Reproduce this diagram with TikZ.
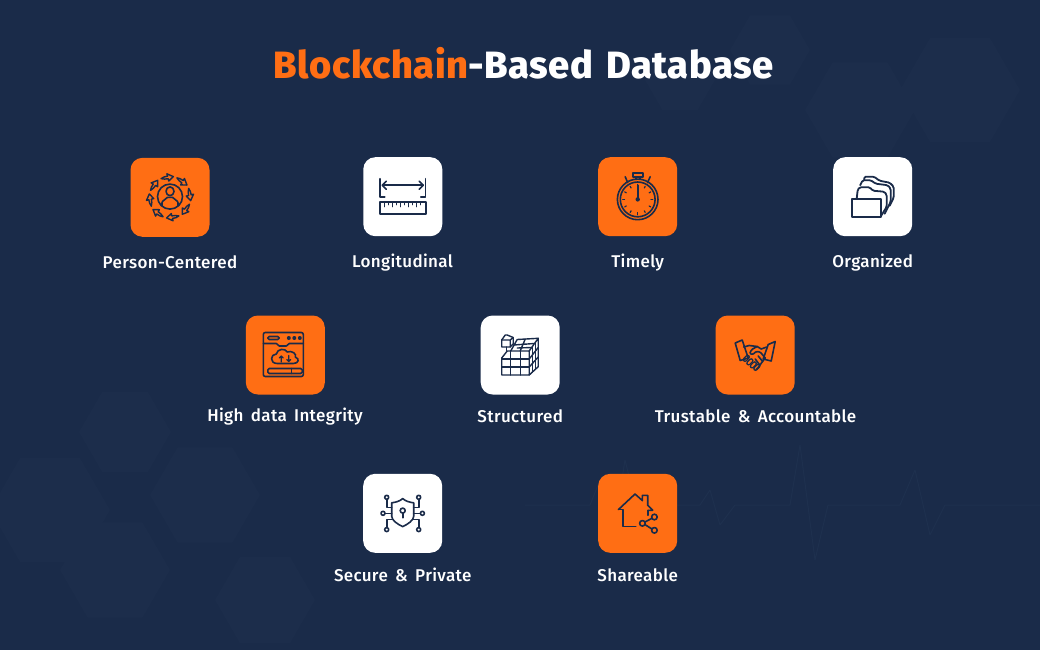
\documentclass[tikz,border=0pt]{standalone}
\usepackage{fontspec}
\setmainfont{Fira Sans}[UprightFont=* Medium,LetterSpace=2,WordSpace=1.6]
\newfontfamily\titlefont{Fira Sans}[UprightFont=* ExtraBold,LetterSpace=1.5,WordSpace=1.4]
\usetikzlibrary{shapes.geometric,calc}
\definecolor{bgnavy}{HTML}{1A2B49}
\definecolor{bgfaint}{HTML}{1C2D4B}
\definecolor{bgline}{HTML}{1E304E}
\definecolor{tileorange}{HTML}{FF6E14}
\definecolor{inkdark}{HTML}{1A2B49}
\tikzset{
  tile/.style={minimum size=79pt,inner sep=0pt,rounded corners=12pt,draw=none},
  orangetile/.style={tile,fill=tileorange},
  whitetile/.style={tile,fill=white},
  caption/.style={text=white,font=\fontsize{17}{20}\selectfont,anchor=base,inner sep=0pt},
  ico/.style={draw=inkdark,line width=1.6pt,line join=round,line cap=round},
  hexa/.style={regular polygon,regular polygon sides=6,fill=bgfaint,draw=none,inner sep=0pt},
  pulse/.style={draw=bgline,line width=1pt,line join=round}
}
\begin{document}
\begin{tikzpicture}[x=1pt,y=-1pt]
\useasboundingbox (0,0) rectangle (1040,650);
\fill[bgnavy] (0,0) rectangle (1040,650);
% faint background
\node[hexa,minimum size=92pt] (h1) at (125,432) {};
\node[hexa,minimum size=110pt] (h2) at (205,495) {};
\node[hexa,minimum size=120pt] (h3) at (50,510) {};
\node[hexa,minimum size=110pt] (h4) at (115,570) {};
\node[hexa,minimum size=100pt] (h5) at (265,600) {};
\node[hexa,minimum size=110pt] (h6) at (860,110) {};
\node[hexa,minimum size=120pt] (h7) at (960,90) {};
\node[hexa,minimum size=80pt] (h8) at (770,50) {};
\node[hexa,minimum size=70pt] (h9) at (680,80) {};
\draw[pulse] (525,505)--(590,505)--(600,480)--(612,540)--(625,460)--(640,520)--(650,505)--(700,505)--(710,490)--(720,525)--(735,505)--(790,505)--(800,445)--(815,560)--(828,505)--(900,505)--(915,470)--(930,535)--(945,505)--(1040,505);
% title
\node[anchor=base,inner sep=0pt,font=\titlefont\fontsize{38}{44}\selectfont,text=white] (title) at (523.5,78.5) {\textcolor{tileorange}{Blockchain}-Based Database};
% tiles
\node[orangetile] (t1) at (170,197.3) {};
\node[whitetile]  (t2) at (402.8,196.7) {};
\node[orangetile] (t3) at (637.7,196.7) {};
\node[whitetile]  (t4) at (872.7,196.7) {};
\node[orangetile] (t5) at (285.3,355) {};
\node[whitetile]  (t6) at (520.2,355) {};
\node[orangetile] (t7) at (755.2,355) {};
\node[whitetile]  (t8) at (402.7,513.3) {};
\node[orangetile] (t9) at (637.7,513.3) {};
% captions
\node[caption] (c1) at (170,268) {Person-Centered};
\node[caption] (c2) at (402.5,267) {Longitudinal};
\node[caption] (c3) at (637.7,267) {Timely};
\node[caption] (c4) at (872.7,267) {Organized};
\node[caption] (c5) at (285,421) {High data Integrity};
\node[caption] (c6) at (520.2,422) {Structured};
\node[caption] (c7) at (755.5,422) {Trustable \& Accountable};
\node[caption] (c8) at (402.7,581) {Secure \& Private};
\node[caption] (c9) at (637.7,581) {Shareable};
% icon 1: person with circling arrows
\begin{scope}[shift={(t1.center)},ico]
  \draw (0,-0.7) circle (12.5);
  \draw (0,-6) ellipse (4 and 4.4);
  \draw (-8,8.5) -- (-8,5.5) .. controls (-8,3) and (-4,2.5) .. (-2.5,0) -- (2.5,0) .. controls (4,2.5) and (8,3) .. (8,5.5) -- (8,8.5);
  \foreach \a in {0,45,...,315}{
    \draw[line width=1.4pt,rotate=\a+8,shift={(0,-0.7)}] (-6.2,-19) .. controls (-4.5,-20.2) and (-2,-20.6) .. (0.5,-20.6) -- (0.2,-23) -- (6.2,-19.3) -- (1,-15.6) -- (0.8,-18) .. controls (-1.5,-18) and (-4,-17.8) .. (-6.2,-19) -- cycle;
  }
\end{scope}
% icon 2: ruler with span arrow
\begin{scope}[shift={(t2.center)},ico]
  \draw (-22.7,-18) -- (-22.7,0.5) -- (-18,0.5);
  \draw (22.7,-18) -- (22.7,0.5) -- (18,0.5);
  \draw (-20,-11.5) -- (20,-11.5);
  \draw (-16.5,-15.5) -- (-20.5,-11.5) -- (-16.5,-7.5);
  \draw (16.5,-15.5) -- (20.5,-11.5) -- (16.5,-7.5);
  \draw (-23,5) rectangle (23,17.3);
  \foreach \x/\h in {-18/5,-14/3,-10/5,-6/3,-2/5,2/3,6/5,10/3,14/5,18/3}{
    \draw[line width=1.2pt] (\x,5) -- (\x,5+\h);
  }
\end{scope}
% icon 3: stopwatch
\begin{scope}[shift={(t3.center)},ico]
  \draw (0,2.7) circle (20.3);
  \draw (0,2.7) circle (17.4);
  \draw (-5,-24) rectangle (5,-20);
  \draw (-2,-20) -- (-2,-17.4) (2,-20) -- (2,-17.4);
  \draw (-12.5,-20) -- (-10,-14);
  \draw (12.5,-20) -- (9.8,-14);
  \draw (0,-11.5) -- (0,2.7);
  \fill[inkdark,draw=none] (0,2.7) circle (2.2);
  \foreach \a in {30,60,...,150,210,240,...,330}{
    \draw[line width=1.2pt] ($(0,2.7)+(\a:13.2)$) -- ($(0,2.7)+(\a:15)$);
  }
  \draw[line width=1.2pt] (0,16) -- (0,18);
  \draw[line width=1.2pt] (13.2,2.7) -- (15,2.7) (-13.2,2.7) -- (-15,2.7);
\end{scope}
% icon 4: folders
\begin{scope}[shift={(t4.center)},ico,line width=1.8pt]
  \draw[rounded corners=1.5pt] (-8.5,-17) -- (-8.5,-20) -- (1.5,-20) -- (6.7,-16) -- (17,-14) -- (21,-10) -- (21,1) -- (17,9);
  \draw[fill=white,rounded corners=1.5pt] (-12.5,-11.5) -- (-10,-16.5) -- (-2,-16.5) -- (3,-13) -- (15,-11.5) -- (18,-8) -- (18,5) -- (12,17);
  \draw[fill=white,rounded corners=1.5pt] (-16,2) -- (-15,-7) -- (-13,-9.5) -- (-3,-9.5) -- (0,-6) -- (11.5,-5) -- (14,-2) -- (14,10) -- (8.5,19);
  \draw[fill=white] (-21,2) rectangle (8.3,20);
\end{scope}
% icon 5: browser with cloud
\begin{scope}[shift={(t5.center)},ico]
  \draw[rounded corners=2pt] (-22,-22.5) rectangle (18,21.5);
  \draw[rounded corners=1.5pt] (-17.5,-18.5) rectangle (-6,-15.5);
  \foreach \x in {5,10.5,16}{\fill[inkdark] (\x-1.5,-17) circle (2);}
  \draw (-22,-11.5) -- (-9,-11.5) -- (-6,-9) -- (1,-9) -- (4,-11.5) -- (18,-11.5);
  \draw (-8,8.5) .. controls (-16,8.5) and (-15,-1) .. (-9,-1) .. controls (-8,-6.5) and (0,-7) .. (2,-3) .. controls (6,-5) and (12,-1) .. (10,2) .. controls (15,4) and (13,8.5) .. (8,8.5) -- cycle;
  \draw[line width=1.2pt] (-4,7) -- (-4,1) (-6,3) -- (-4,1) -- (-2,3);
  \draw[line width=1.2pt] (3.5,0.5) -- (3.5,6.5) (1.5,4.5) -- (3.5,6.5) -- (5.5,4.5);
  \draw[rounded corners=1.5pt] (-17.5,13.5) rectangle (17,18.5);
  \draw (6,13.5) -- (6,18.5);
\end{scope}
% icon 6: cube
\begin{scope}[shift={(t6.center)},ico,line width=1.4pt]
  \draw (-18.5,3) -- (-13,-4) -- (9,-4) -- (9,20) -- (-18.5,20) -- cycle;
  \draw (-9.5,-4) -- (-9.5,20) (0,-4) -- (0,20);
  \draw (-18.5,4) -- (9,4) (-18.5,12) -- (9,12);
  \draw (9,20) -- (18,11.7) -- (18,-16.7) -- (9,-4);
  \draw (12,-8) -- (12,17.2) (15,-12.5) -- (15,14.5);
  \draw (9,4) -- (18,-7.5) (9,12) -- (18,2);
  \draw (-9.5,-4) -- (-3,-15.5) -- (18,-16.7);
  \draw (0,-4) -- (5,-15.9) (-6.5,-10) -- (14,-11.5) (-3,-7) -- (11.5,-7.5);
  \draw[fill=white] (-18.5,-15) -- (-18.5,-8) -- (-10,-8) -- (-7,-11) -- (-7,-17.5) -- (-13,-20) -- (-15,-20) -- cycle;
  \draw (-18.5,-15) -- (-10,-15) -- (-10,-8) (-10,-15) -- (-7,-17.5);
  \draw (-13.5,-8) -- (-13.5,-4);
\end{scope}
% icon 7: handshake
\begin{scope}[shift={(t7.center)},ico]
  \foreach \x/\y in {-9/3.5,-5.5/7,-2/10,1.5/12.5}{
    \draw[line width=4.6pt] (\x-1.2,\y+1.2) -- (\x+1.5,\y-1.5);
    \draw[line width=2pt,tileorange] (\x-1.2,\y+1.2) -- (\x+1.5,\y-1.5);
  }
  \draw (-20,-12) -- (-13,-15) -- (-7,3) -- (-15,5.5) -- cycle;
  \draw (20,-13.5) -- (13,-10.5) -- (8,4) -- (16,6) -- cycle;
  \draw (-11.5,-8) -- (-6,-9.5) -- (2,-8.5) -- (6,-6) -- (11.5,-8);
  \draw[rounded corners=1pt] (2,-8.5) -- (-3.5,-5.5) -- (-5.5,-1.5) -- (-2.5,-0.5) -- (1,-3.5) -- (5,-3) -- (10,3);
  \draw (10,3) -- (8,5.5) -- (3,12.5) -- (1,14.5);
  \draw (3,1) -- (7.5,6.5);
  \draw (0,4) -- (4.5,10);
\end{scope}
% icon 8: shield with circuit
\begin{scope}[shift={(t8.center)},ico]
  \draw (0,-14.7) .. controls (-3,-12) and (-7,-11) .. (-11,-10.5) -- (-11,3) .. controls (-11,7) and (-5,11) .. (0,13.3) .. controls (5,11) and (11,7) .. (11,3) -- (11,-10.5) .. controls (7,-11) and (3,-12) .. (0,-14.7) -- cycle;
  \draw (0,-2.7) circle (2.5);
  \draw (0,-0.2) -- (0,4.5);
  \foreach \x/\y in {-16/-16,16/-16,-19.7/0,19.7/0,-16/16.3,16/16.3}{
    \draw (\x,\y) circle (2);
  }
  \draw (-16,-14) -- (-16,-6) -- (-11,-6);
  \draw (16,-14) -- (16,-6) -- (11,-6);
  \draw (-17.7,0) -- (-11,0);
  \draw (17.7,0) -- (11,0);
  \draw (-16,14.3) -- (-16,6.3) -- (-10,6.3);
  \draw (16,14.3) -- (16,6.3) -- (10,6.3);
\end{scope}
% icon 9: house with share
\begin{scope}[shift={(t9.center)},ico]
  \draw (-19.3,-3.7) -- (-2.7,-19.3) -- (4.7,-12.7) -- (4.7,-18) -- (10,-18) -- (10,-8) -- (15,-3) -- (11,-3);
  \draw (-19.3,-3.7) -- (-14.5,-3.7) -- (-14.5,13.3) -- (-2,13.3);
  \draw (10,-3) -- (10,2);
  \draw (16.7,3.7) circle (2.8);
  \draw (4.7,10) circle (2.8);
  \draw (16.7,17) circle (2.8);
  \draw (7.3,8.7) -- (14.2,5);
  \draw (7.3,11.3) -- (14.2,15.7);
\end{scope}
\end{tikzpicture}
\end{document}
